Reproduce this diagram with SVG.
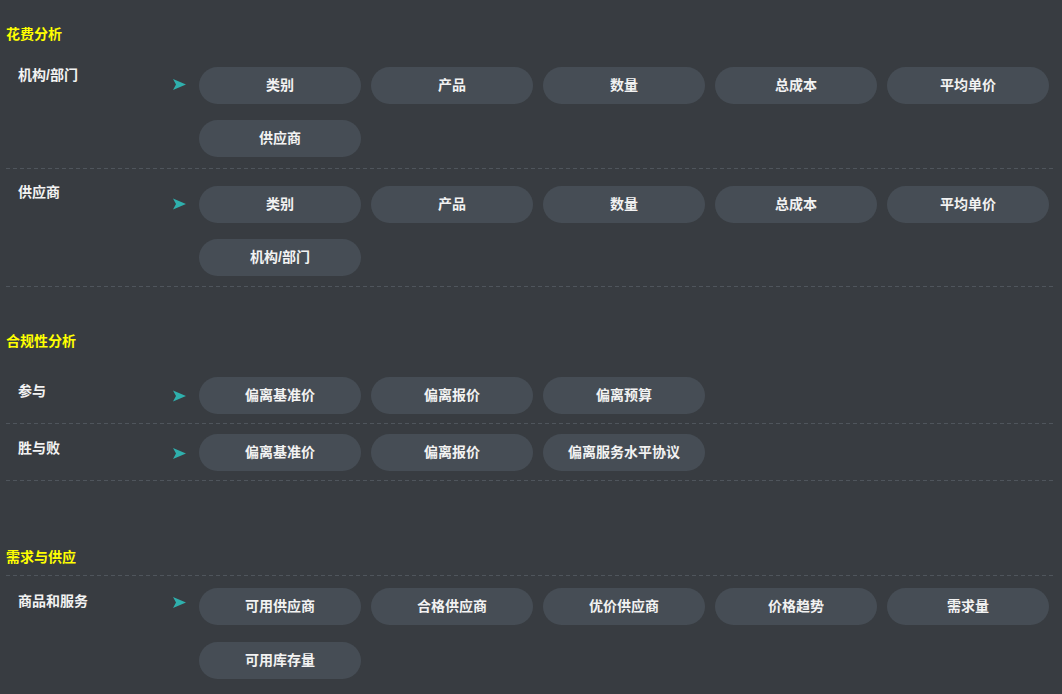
<svg xmlns="http://www.w3.org/2000/svg" width="1062" height="694" viewBox="0 0 1062 694">
<defs>
<style>
.bg{fill:#383c41}
.h{font-family:"Liberation Sans","Noto Sans CJK SC",sans-serif;font-size:14px;font-weight:bold;fill:#ffff00}
.lbl{font-family:"Liberation Sans","Noto Sans CJK SC",sans-serif;font-size:14px;font-weight:bold;fill:#f2f2f2}
.pill rect{fill:#464d55}
.pill text{font-family:"Liberation Sans","Noto Sans CJK SC",sans-serif;font-size:14px;font-weight:bold;fill:#f2f2f2;text-anchor:middle}
.sep{stroke:#4f555c;stroke-width:1;stroke-dasharray:4 3;fill:none}
.arr{fill:#2fb0ad}
</style>
<symbol id="ar" viewBox="0 0 14 12" overflow="visible"><path d="M0,0 L13,5.5 L0,11 L3,5.5 Z"/></symbol>
</defs>
<rect class="bg" x="0" y="0" width="1062" height="694"/>

<g id="sections">
<text class="h" x="6" y="38.5">花费分析</text>
<text class="h" x="6" y="346">合规性分析</text>
<text class="h" x="6" y="562">需求与供应</text>
</g>

<g id="connectors">
<line class="sep" x1="6" y1="168.5" x2="1056" y2="168.5"/>
<line class="sep" x1="6" y1="286.5" x2="1056" y2="286.5"/>
<line class="sep" x1="6" y1="423.5" x2="1056" y2="423.5"/>
<line class="sep" x1="6" y1="480.5" x2="1056" y2="480.5"/>
<line class="sep" x1="6" y1="575.5" x2="1056" y2="575.5"/>
<path class="arr" d="M173,79 L186,84.5 L173,90 L176,84.5 Z"/>
<path class="arr" d="M173,198.5 L186,204 L173,209.5 L176,204 Z"/>
<path class="arr" d="M173,390.5 L186,396 L173,401.5 L176,396 Z"/>
<path class="arr" d="M173,448 L186,453.5 L173,459 L176,453.5 Z"/>
<path class="arr" d="M173,597 L186,602.5 L173,608 L176,602.5 Z"/>
</g>

<g id="row-jigou">
<text class="lbl" x="18" y="80">机构/部门</text>
<g class="pill" id="r1-1"><rect x="199" y="67" width="162" height="37" rx="18.5"/><text x="280" y="90">类别</text></g>
<g class="pill" id="r1-2"><rect x="371" y="67" width="162" height="37" rx="18.5"/><text x="452" y="90">产品</text></g>
<g class="pill" id="r1-3"><rect x="543" y="67" width="162" height="37" rx="18.5"/><text x="624" y="90">数量</text></g>
<g class="pill" id="r1-4"><rect x="715" y="67" width="162" height="37" rx="18.5"/><text x="796" y="90">总成本</text></g>
<g class="pill" id="r1-5"><rect x="887" y="67" width="162" height="37" rx="18.5"/><text x="968" y="90">平均单价</text></g>
<g class="pill" id="r1-6"><rect x="199" y="120" width="162" height="37" rx="18.5"/><text x="280" y="143">供应商</text></g>
</g>

<g id="row-gys">
<text class="lbl" x="18" y="197">供应商</text>
<g class="pill" id="r2-1"><rect x="199" y="186" width="162" height="37" rx="18.5"/><text x="280" y="209">类别</text></g>
<g class="pill" id="r2-2"><rect x="371" y="186" width="162" height="37" rx="18.5"/><text x="452" y="209">产品</text></g>
<g class="pill" id="r2-3"><rect x="543" y="186" width="162" height="37" rx="18.5"/><text x="624" y="209">数量</text></g>
<g class="pill" id="r2-4"><rect x="715" y="186" width="162" height="37" rx="18.5"/><text x="796" y="209">总成本</text></g>
<g class="pill" id="r2-5"><rect x="887" y="186" width="162" height="37" rx="18.5"/><text x="968" y="209">平均单价</text></g>
<g class="pill" id="r2-6"><rect x="199" y="239" width="162" height="37" rx="18.5"/><text x="280" y="262">机构/部门</text></g>
</g>

<g id="row-canyu">
<text class="lbl" x="18" y="396">参与</text>
<g class="pill" id="r3-1"><rect x="199" y="377" width="162" height="37" rx="18.5"/><text x="280" y="400">偏离基准价</text></g>
<g class="pill" id="r3-2"><rect x="371" y="377" width="162" height="37" rx="18.5"/><text x="452" y="400">偏离报价</text></g>
<g class="pill" id="r3-3"><rect x="543" y="377" width="162" height="37" rx="18.5"/><text x="624" y="400">偏离预算</text></g>
</g>

<g id="row-shengbai">
<text class="lbl" x="18" y="453">胜与败</text>
<g class="pill" id="r4-1"><rect x="199" y="434" width="162" height="37" rx="18.5"/><text x="280" y="457">偏离基准价</text></g>
<g class="pill" id="r4-2"><rect x="371" y="434" width="162" height="37" rx="18.5"/><text x="452" y="457">偏离报价</text></g>
<g class="pill" id="r4-3"><rect x="543" y="434" width="162" height="37" rx="18.5"/><text x="624" y="457">偏离服务水平协议</text></g>
</g>

<g id="row-shangpin">
<text class="lbl" x="18" y="606">商品和服务</text>
<g class="pill" id="r5-1"><rect x="199" y="588" width="162" height="37" rx="18.5"/><text x="280" y="611">可用供应商</text></g>
<g class="pill" id="r5-2"><rect x="371" y="588" width="162" height="37" rx="18.5"/><text x="452" y="611">合格供应商</text></g>
<g class="pill" id="r5-3"><rect x="543" y="588" width="162" height="37" rx="18.5"/><text x="624" y="611">优价供应商</text></g>
<g class="pill" id="r5-4"><rect x="715" y="588" width="162" height="37" rx="18.5"/><text x="796" y="611">价格趋势</text></g>
<g class="pill" id="r5-5"><rect x="887" y="588" width="162" height="37" rx="18.5"/><text x="968" y="611">需求量</text></g>
<g class="pill" id="r5-6"><rect x="199" y="642" width="162" height="37" rx="18.5"/><text x="280" y="665">可用库存量</text></g>
</g>
</svg>
